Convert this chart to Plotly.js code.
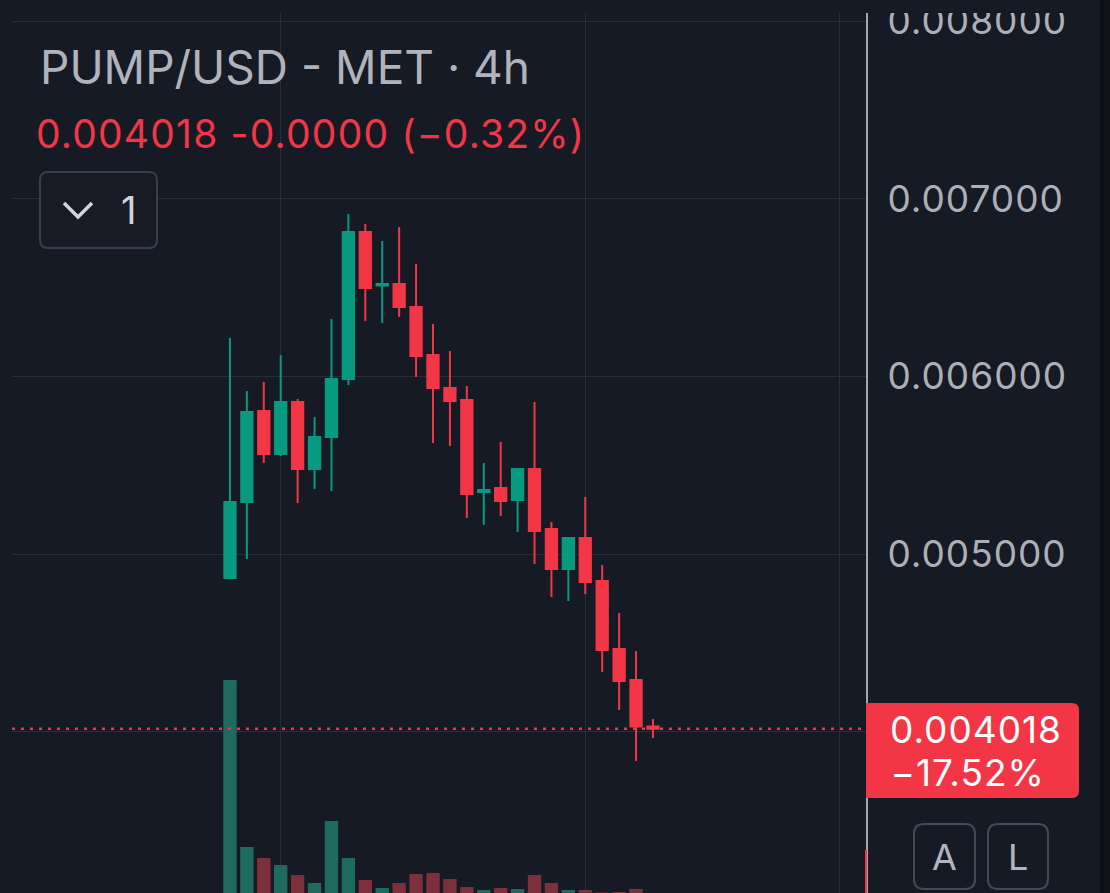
<!DOCTYPE html>
<html><head><meta charset="utf-8">
<script src="https://cdn.plot.ly/plotly-3.0.1.min.js"></script>
<style>
html,body{margin:0;padding:0;background:#161a25;}
#chart{width:1110px;height:893px;}
#chart .ytick text{letter-spacing:1px;}
#chart g.annotation[data-index="1"] text{letter-spacing:1.2px;}
#chart g.annotation[data-index="3"] text,
#chart g.annotation[data-index="4"] text{letter-spacing:1px;}
</style>
</head><body><div id="chart"></div>
<script>
// ---------- data ----------
const symbolTitle = "PUMP/USD - MET · 4h";
const candleIndex = [0,1,2,3,4,5,6,7,8,9,10,11,12,13,14,15,16,17,18,19,20,21,22,23,24,25];
const opens  = [0.004866,0.005294,0.005806,0.005564,0.005857,0.005480,0.005660,0.005986,0.006813,0.006512,0.006520,0.006391,0.006121,0.005935,0.005868,0.005350,0.005373,0.005305,0.005480,0.005142,0.004917,0.005091,0.004850,0.004467,0.004293,0.004031];
const highs  = [0.006217,0.005918,0.005969,0.006121,0.005873,0.005772,0.006323,0.006914,0.006858,0.006762,0.006841,0.006633,0.006295,0.006143,0.005947,0.005513,0.005632,0.005485,0.005857,0.005181,0.005097,0.005322,0.004940,0.004669,0.004456,0.004073];
const lows   = [0.004866,0.004973,0.005513,0.005553,0.005288,0.005367,0.005356,0.005952,0.006312,0.006301,0.006335,0.005997,0.005626,0.005609,0.005204,0.005165,0.005215,0.005125,0.004945,0.004760,0.004737,0.004776,0.004338,0.004124,0.003837,0.003966];
const closes = [0.005294,0.005800,0.005564,0.005857,0.005480,0.005660,0.005986,0.006813,0.006498,0.006520,0.006391,0.006115,0.005935,0.005862,0.005339,0.005361,0.005300,0.005480,0.005131,0.004917,0.005091,0.004844,0.004461,0.004287,0.004031,0.004018];
const volumes = [21300,4600,3500,2800,1800,1000,7200,3500,1300,500,1000,1900,2000,1400,600,300,500,400,1800,1000,300,300,50,100,400,0];
const priceTicks = [0.004,0.005,0.006,0.007,0.008];
const timeGridIndex = [3,21,36];
const changeAbsText = "-0.0000";
const changePctText = "\u22120.32%";
const dayChangeText = "\u221217.52%";
const paneCountText = "1";
const scaleButtons = ["A","L"];

// ---------- style ----------
const BG = "#161a25", GRID = "#292d38", GREEN = "#089981", RED = "#f23645";
const VGREEN = "#1e6a5f", VRED = "#7e2f3c", AXT = "#acafb8";
const W = 1110, H = 893, ML = 12, MR = 244, MT = 13, MB = 0;
const PW = W - ML - MR, PH = H - MT - MB;
const px2x = p => (p - ML) / PW;
const py2y = p => (H - MB - p) / PH;

function roundRect(x0, y0, x1, y1, r, rl) {
  const rL = rl === undefined ? r : rl;
  const pts = [
    `M${px2x(x0 + rL)},${py2y(y0)}`,
    `L${px2x(x1 - r)},${py2y(y0)}`,
    `Q${px2x(x1)},${py2y(y0)} ${px2x(x1)},${py2y(y0 + r)}`,
    `L${px2x(x1)},${py2y(y1 - r)}`,
    `Q${px2x(x1)},${py2y(y1)} ${px2x(x1 - r)},${py2y(y1)}`,
    `L${px2x(x0 + rL)},${py2y(y1)}`,
    `Q${px2x(x0)},${py2y(y1)} ${px2x(x0)},${py2y(y1 - rL)}`,
    `L${px2x(x0)},${py2y(y0 + rL)}`,
    `Q${px2x(x0)},${py2y(y0)} ${px2x(x0 + rL)},${py2y(y0)}`,
    'Z'];
  return pts.join(' ');
}

const lastClose = closes[closes.length - 1];
const volColors = opens.map((o, i) => closes[i] >= o ? VGREEN : VRED);

const traces = [
  {type: 'bar', x: candleIndex, y: volumes, yaxis: 'y2', marker: {color: volColors, line: {width: 0}},
   hoverinfo: 'skip', showlegend: false},
  {type: 'candlestick', x: candleIndex, open: opens, high: highs, low: lows, close: closes,
   increasing: {line: {color: GREEN, width: 2}, fillcolor: GREEN},
   decreasing: {line: {color: RED, width: 2}, fillcolor: RED},
   whiskerwidth: 0, hoverinfo: 'skip', showlegend: false}
];

const shapes = [
  {type: 'line', xref: 'paper', yref: 'y', x0: 0, x1: 1, y0: lastClose, y1: lastClose,
   line: {color: RED, width: 2.5, dash: '3px,6px'}, layer: 'above'},
  {type: 'line', xref: 'paper', yref: 'paper', x0: px2x(866), x1: px2x(866), y0: py2y(850), y1: py2y(893),
   line: {color: RED, width: 2}, layer: 'above'},
  {type: 'rect', xref: 'paper', yref: 'paper', x0: px2x(867), x1: px2x(1100), y0: py2y(13), y1: py2y(0),
   fillcolor: BG, line: {width: 0}, layer: 'above'},
  {type: 'rect', xref: 'paper', yref: 'paper', x0: px2x(1100), x1: px2x(1110), y0: py2y(893), y1: py2y(0),
   fillcolor: '#0f1118', line: {width: 0}, layer: 'above'},
  {type: 'path', xref: 'paper', yref: 'paper', path: roundRect(866, 703, 1079, 798, 7, 0),
   fillcolor: RED, line: {width: 0}, layer: 'above'},
  {type: 'path', xref: 'paper', yref: 'paper', path: roundRect(914, 824, 975, 889, 10),
   fillcolor: 'rgba(0,0,0,0)', line: {color: '#454955', width: 2}, layer: 'above'},
  {type: 'path', xref: 'paper', yref: 'paper', path: roundRect(988, 824, 1048, 889, 10),
   fillcolor: 'rgba(0,0,0,0)', line: {color: '#454955', width: 2}, layer: 'above'},
  {type: 'path', xref: 'paper', yref: 'paper', path: roundRect(40, 172, 157, 248, 8),
   fillcolor: '#181b26', line: {color: '#3a3e4a', width: 2}, layer: 'above'},
  {type: 'path', xref: 'paper', yref: 'paper',
   path: `M${px2x(64)},${py2y(203)} L${px2x(78)},${py2y(217)} L${px2x(92)},${py2y(203)}`,
   line: {color: '#d1d4dc', width: 3.5}, layer: 'above'}
];

const ann = (text, x, y, size, color, xanchor) => ({
  text, xref: 'paper', yref: 'paper', x: px2x(x), y: py2y(y), xanchor: xanchor || 'left', yanchor: 'middle',
  showarrow: false, font: {family: 'Inter, Roboto, sans-serif', size, color}
});

const annotations = [
  ann(symbolTitle, 38, 67, 46, '#b0b3bc'),
  ann(lastClose.toFixed(6) + ' ' + changeAbsText + ' (' + changePctText + ')', 49, 134, 39, RED),
  ann(paneCountText, 128, 210, 38, '#d1d4dc', 'center'),
  ann(lastClose.toFixed(6), 892, 730, 37, '#ffffff'),
  ann(dayChangeText, 892, 772, 37, '#ffffff'),
  ann(scaleButtons[0], 944.5, 857, 36, '#b2b5be', 'center'),
  ann(scaleButtons[1], 1018, 857, 36, '#b2b5be', 'center')
];

const layout = {
  width: W, height: H, margin: {l: ML, r: MR, t: MT, b: MB, pad: 0},
  paper_bgcolor: BG, plot_bgcolor: BG,
  font: {family: 'Inter, Roboto, sans-serif', color: AXT},
  showlegend: false, dragmode: false, hovermode: false,
  boxgap: 0.332, boxgroupgap: 0, bargap: 0.21,
  xaxis: {range: [-12.88, 37.59], tickmode: 'array', tickvals: timeGridIndex, showticklabels: false, ticks: '',
          showgrid: true, gridcolor: GRID, gridwidth: 1, zeroline: false, showline: false,
          rangeslider: {visible: false}, fixedrange: true},
  yaxis: {range: [0.003094, 0.008045], side: 'right', tickmode: 'array', tickvals: priceTicks,
          // the 0.004000 label sits under the last-price tag, so it is left blank like the reference
          ticktext: priceTicks.map(v => Math.abs(v - lastClose) < 0.0002 ? '' : v.toFixed(6)),
          tickfont: {size: 37, color: AXT}, ticklabeloverflow: 'allow',
          ticks: '', ticklabelstandoff: 12, showgrid: true, gridcolor: GRID, gridwidth: 1,
          zeroline: false, showline: true, linecolor: '#a3a6af', linewidth: 2, fixedrange: true},
  yaxis2: {overlaying: 'y', range: [0, 88000], visible: false, showgrid: false, fixedrange: true},
  shapes, annotations
};

Plotly.newPlot('chart', traces, layout, {displayModeBar: false, staticPlot: true});
</script></body></html>
